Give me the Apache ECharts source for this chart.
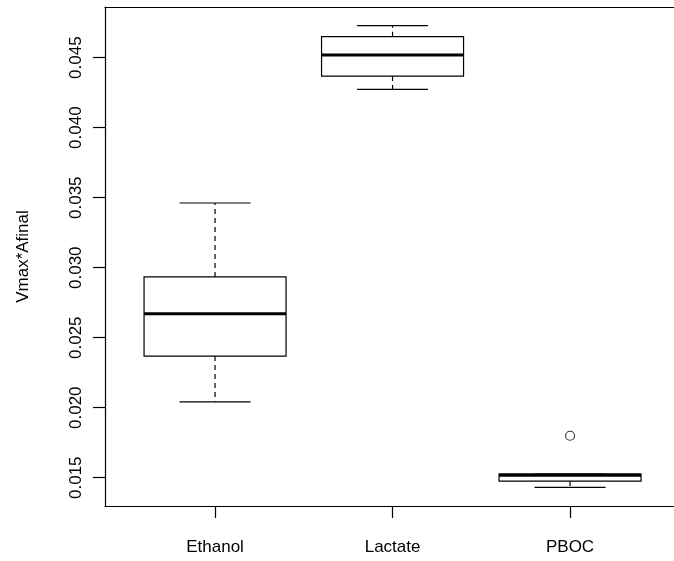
<!DOCTYPE html>
<html>
<head>
<meta charset="utf-8">
<script src="https://cdn.jsdelivr.net/npm/echarts@6/dist/echarts.min.js"></script>
<style>
  html, body { margin: 0; padding: 0; background: #fff; }
  #chart { width: 674px; height: 561px; }
</style>
</head>
<body>
<div id="chart"></div>
<script>
// Box statistics per group
const categories   = ['Ethanol', 'Lactate', 'PBOC'];
const lowerWhisker = [0.02041, 0.04274, 0.01431];
const lowerQuart   = [0.02369, 0.04369, 0.01476];
const medians      = [0.02671, 0.04519, 0.01519];
const upperQuart   = [0.02934, 0.04650, 0.01526];
const upperWhisker = [0.03462, 0.04729, 0.01526];
// Points beyond the whiskers: [group position, value]
const outliers     = [[3, 0.0180]];
const yTicks       = [0.015, 0.020, 0.025, 0.030, 0.035, 0.040, 0.045];
const xTicks       = [1, 2, 3];

const FONT = '"Liberation Sans", Arial, Helvetica, sans-serif';
const FONT_SIZE = 17;
const LINE = { color: '#000', width: 1.2 };

const boxData = categories.map((c, i) => [
  i + 1, lowerWhisker[i], lowerQuart[i], medians[i], upperQuart[i], upperWhisker[i]
]);

function renderBox(params, api) {
  const x = api.value(0);
  const pLow = api.coord([x, api.value(1)]);
  const pQ1  = api.coord([x, api.value(2)]);
  const pMed = api.coord([x, api.value(3)]);
  const pQ3  = api.coord([x, api.value(4)]);
  const pHigh = api.coord([x, api.value(5)]);
  const halfBox = api.size([0.8, 0])[0] / 2;
  const halfCap = api.size([0.4, 0])[0] / 2;
  const cx = pMed[0];
  const thin = { stroke: '#000', lineWidth: 1.2, fill: null };
  const dashed = { stroke: '#000', lineWidth: 1.2, lineDash: [5, 4], fill: null };
  return {
    type: 'group',
    children: [
      { type: 'line', shape: { x1: cx, y1: pQ3[1], x2: cx, y2: pHigh[1] }, style: dashed },
      { type: 'line', shape: { x1: cx, y1: pQ1[1], x2: cx, y2: pLow[1] }, style: dashed },
      { type: 'line', shape: { x1: cx - halfCap, y1: pHigh[1], x2: cx + halfCap, y2: pHigh[1] }, style: thin },
      { type: 'line', shape: { x1: cx - halfCap, y1: pLow[1], x2: cx + halfCap, y2: pLow[1] }, style: thin },
      { type: 'rect',
        shape: { x: cx - halfBox, y: pQ3[1], width: 2 * halfBox, height: pQ1[1] - pQ3[1] },
        style: { stroke: '#000', lineWidth: 1.2, fill: '#fff' } },
      { type: 'line', shape: { x1: cx - halfBox, y1: pMed[1], x2: cx + halfBox, y2: pMed[1] },
        style: { stroke: '#000', lineWidth: 3.2 } }
    ]
  };
}

const chart = echarts.init(document.getElementById('chart'), null, { renderer: 'canvas' });
chart.setOption({
  animation: false,
  backgroundColor: '#fff',
  grid: { left: 105, top: 7, right: 0, bottom: 55 },
  xAxis: [
    {
      type: 'value', min: 0.38, max: 3.5856, position: 'bottom',
      axisLine: { show: true, onZero: false, lineStyle: LINE },
      splitLine: { show: false },
      axisTick: { show: true, customValues: xTicks, length: 12, inside: false, lineStyle: LINE },
      axisLabel: {
        customValues: xTicks, margin: 33,
        fontFamily: FONT, fontSize: FONT_SIZE, color: '#000',
        formatter: v => categories[Math.round(v) - 1] || ''
      }
    },
    {
      // top edge of the plot frame
      type: 'value', min: 0.38, max: 3.5856, position: 'top',
      axisLine: { show: true, onZero: false, lineStyle: LINE },
      axisTick: { show: false }, axisLabel: { show: false }, splitLine: { show: false }
    }
  ],
  yAxis: {
    type: 'value', min: 0.01298, max: 0.04862,
    name: 'Vmax*Afinal', nameLocation: 'middle', nameGap: 73, nameRotate: 90,
    nameTextStyle: { fontFamily: FONT, fontSize: FONT_SIZE, color: '#000' },
    axisLine: { show: true, onZero: false, lineStyle: LINE },
    splitLine: { show: false },
    axisTick: { show: true, customValues: yTicks, length: 12, inside: false, lineStyle: LINE },
    axisLabel: {
      customValues: yTicks, rotate: 90, margin: 20,
      fontFamily: FONT, fontSize: FONT_SIZE, color: '#000',
      formatter: v => v.toFixed(3)
    }
  },
  series: [
    {
      type: 'custom',
      renderItem: renderBox,
      encode: { x: 0, y: [1, 2, 3, 4, 5] },
      data: boxData,
      silent: true
    },
    {
      type: 'scatter',
      data: outliers,
      symbol: 'circle',
      symbolSize: 9,
      itemStyle: { color: '#fff', borderColor: '#000', borderWidth: 1.1 },
      silent: true
    }
  ]
});
</script>
</body>
</html>
